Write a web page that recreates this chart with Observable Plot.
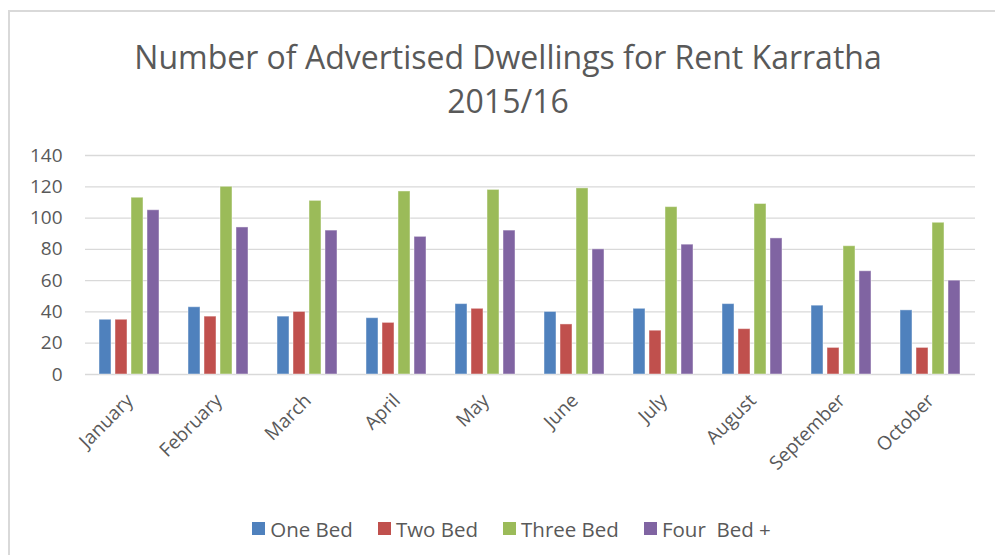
<!DOCTYPE html>
<html>
<head>
<meta charset="utf-8">
<script src="https://cdn.jsdelivr.net/npm/d3@7"></script>
<script src="https://cdn.jsdelivr.net/npm/@observablehq/plot@0.6"></script>
<style>
  html, body { margin: 0; padding: 0; background: #fff; overflow: hidden; }
  #wrap { position: relative; width: 995px; height: 555px; }
  #frame { position: absolute; left: 8px; top: 10px; width: 1000px; height: 560px;
           border-top: 2px solid #d9d9d9; border-left: 2px solid #d9d9d9; box-sizing: border-box; }
  #title { position: absolute; left: 0; top: 35px; width: 1016px; text-align: center;
           font-family: "Open Sans", sans-serif; font-size: 32px; line-height: 44px; color: #595959; }
  #chart { position: absolute; left: 0; top: 140px; }
  #legend { position: absolute; left: 0; top: 512px; width: 995px; padding-left: 28px; box-sizing: border-box;
            white-space: pre; }
  #legend > div { justify-content: center; }
  #legend [class$="-swatch"] { margin-right: 25px !important; }
  #legend [class$="-swatch"]:last-child { margin-right: 0 !important; }
  #legend svg { margin-right: 5px !important; }
</style>
</head>
<body>
<div id="wrap">
  <div id="frame"></div>
  <div id="title">Number of Advertised Dwellings for Rent Karratha<br>2015/16</div>
  <div id="chart"></div>
  <div id="legend"></div>
</div>
<script>
const months = ["January", "February", "March", "April", "May", "June", "July", "August", "September", "October"];
const seriesNames = ["One Bed", "Two Bed", "Three Bed", "Four  Bed +"];
const oneBed   = [35, 43, 37, 36, 45, 40, 42, 45, 44, 41];
const twoBed   = [35, 37, 40, 33, 42, 32, 28, 29, 17, 17];
const threeBed = [113, 120, 111, 117, 118, 119, 107, 109, 82, 97];
const fourBed  = [105, 94, 92, 88, 92, 80, 83, 87, 66, 60];
const yTicks = [0, 20, 40, 60, 80, 100, 120, 140];
const colors = ["#4F81BD", "#C0504D", "#9BBB59", "#8064A2"];

const seriesValues = [oneBed, twoBed, threeBed, fourBed];
const data = months.flatMap((m, i) =>
  seriesNames.map((s, j) => ({month: m, series: s, value: seriesValues[j][i]}))
);

const fontStyle = {fontFamily: "'Open Sans', sans-serif", fontSize: "19px", color: "#595959", background: "transparent"};

const chart = Plot.plot({
  width: 995,
  height: 370,
  marginLeft: 85,
  marginRight: 20,
  marginTop: 15,
  marginBottom: 136,
  style: fontStyle,
  fx: {domain: months, padding: 0, label: null, axis: "bottom", tickRotate: -45, tickSize: 0, tickPadding: 23},
  x: {domain: seriesNames, axis: null, paddingInner: 0.22, paddingOuter: 0.84},
  y: {domain: [0, 140], ticks: yTicks, tickSize: 0, tickPadding: 23, label: null},
  color: {domain: seriesNames, range: colors},
  marks: [
    Plot.ruleY(yTicks, {stroke: "#d9d9d9", strokeWidth: 1.3}),
    Plot.barY(data, {fx: "month", x: "series", y: "value", fill: "series",
                     stroke: "#ffffff", strokeOpacity: 0.45, strokeWidth: 1})
  ]
});
document.getElementById("chart").appendChild(chart);

const legend = Plot.legend({
  color: {domain: seriesNames, range: colors},
  legend: "swatches",
  swatchSize: 13,
  className: "lg",
  style: {fontFamily: "'Open Sans', sans-serif", fontSize: "20.5px", color: "#595959"}
});
document.getElementById("legend").appendChild(legend);
</script>
</body>
</html>
